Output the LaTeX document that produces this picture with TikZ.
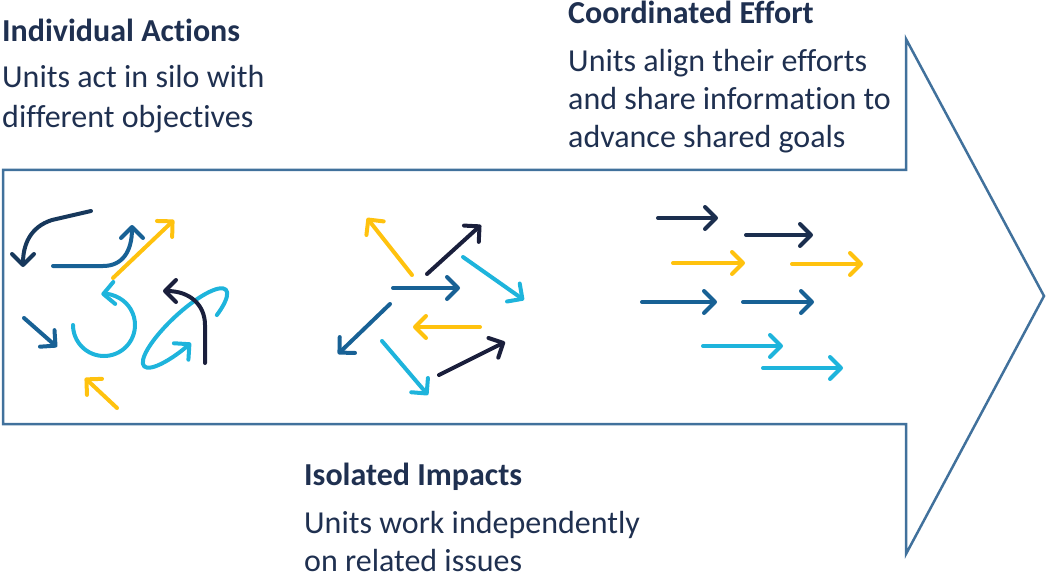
\documentclass[tikz,border=0pt]{standalone}
\usepackage{fontspec}
\setmainfont{Carlito}[Ligatures=NoCommon]
\usetikzlibrary{arrows.meta}
\definecolor{txt}{HTML}{1F3050}
\definecolor{outl}{HTML}{41719C}
\definecolor{navy}{HTML}{1B2E4E}
\definecolor{dnavy}{HTML}{1A1F3C}
\definecolor{lnavy}{HTML}{17385C}
\definecolor{blu}{HTML}{186195}
\definecolor{yel}{HTML}{FFC20E}
\definecolor{cya}{HTML}{1EB4DC}
\begin{document}
\begin{tikzpicture}[x=1pt,y=-1pt,
  lbl/.style={anchor=base west, inner sep=0pt, text=txt, font=\fontsize{32}{39}\selectfont},
  ttl/.style={lbl, font=\fontsize{32}{39}\selectfont\bfseries},
  arr/.style={line width=4pt, line cap=round, line join=round,
    -{Straight Barb[length=11pt,width=22pt,line cap=round,line join=round]}},
  outline/.style={draw=outl, line width=2.5pt, line join=miter}]
\useasboundingbox (0,0) rectangle (1051,580);

% big arrow outline
\draw[outline] (3,170) -- (906,170) -- (906,39) -- (1044,296) -- (906,554) -- (906,424) -- (3,424) -- cycle;

% texts
\node[ttl] (t1) at (2,42) {Individual Actions};
\node[lbl] (t1a) at (2,88) {Units act in silo with};
\node[lbl] (t1b) at (2,128) {different objectives};

\node[ttl] (t2) at (568,24) {Coordinated Effort};
\node[lbl] (t2a) at (568,72) {Units align their efforts};
\node[lbl] (t2b) at (568,110) {and share information to};
\node[lbl] (t2c) at (568,148) {advance shared goals};

\node[ttl] (t3) at (304,485) {Isolated Impacts};
\node[lbl] (t3a) at (304,533) {Units work independently};
\node[lbl] (t3b) at (304,571) {on related issues};

% left cluster
\draw[arr,lnavy] (91,211) -- (52,220) .. controls (30,227) and (23,245) .. (23,267);
\draw[arr,blu] (53,266) -- (103,266) .. controls (122,266) and (132,252) .. (132,225);
\draw[arr,yel] (113,278) -- (174,220);
\draw[arr,cya] (73,325) arc[start angle=180, end angle=-95, radius=31];
\begin{scope}[shift={(185,328)}, rotate=43]
  \draw[arr,cya] (55:56 and 15) arc[start angle=55, end angle=-264, x radius=56, y radius=15];
\end{scope}
\draw[arr,dnavy] (205,363) -- (205,325) .. controls (205,305) and (190,291) .. (163,291);
\draw[arr,blu] (24,318) -- (57,347);
\draw[arr,yel] (117,408) -- (85,378);

% middle cluster
\draw[arr,yel] (412,275) -- (367,218);
\draw[arr,dnavy] (427,274) -- (481,225);
\draw[arr,cya] (463,257) -- (524,300);
\draw[arr,blu] (393,288) -- (460,288);
\draw[arr,blu] (390,304) -- (338,354);
\draw[arr,yel] (480,327) -- (413,327);
\draw[arr,dnavy] (439,375) -- (505,342);
\draw[arr,cya] (382,341) -- (428,395);

% right cluster
\draw[arr,navy] (658,218) -- (718,218);
\draw[arr,navy] (746,235) -- (813,235);
\draw[arr,yel] (673,263) -- (745,263);
\draw[arr,yel] (792,264) -- (863,264);
\draw[arr,blu] (642,302) -- (717,302);
\draw[arr,blu] (743,302) -- (814,302);
\draw[arr,cya] (703,346) -- (783,346);
\draw[arr,cya] (763,368) -- (843,368);
\end{tikzpicture}
\end{document}
